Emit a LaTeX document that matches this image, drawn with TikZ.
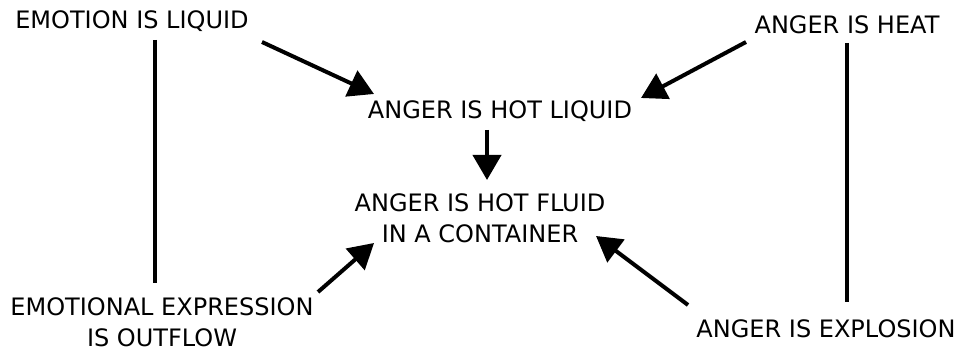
\documentclass[tikz,border=0pt]{standalone}
\usepackage{fontspec}
\setmainfont{DejaVu Sans}
\usetikzlibrary{arrows.meta}
\tikzset{
  lbl/.style={font=\fontsize{24}{31}\selectfont, align=center, inner sep=0pt},
  link/.style={line width=4pt},
  arr/.style={line width=4pt, -{Triangle[length=25pt,width=28pt]}},
}
\begin{document}
\begin{tikzpicture}[x=1pt,y=-1pt]
\useasboundingbox (0,0) rectangle (958,352);
% metaphor labels
\node[lbl] (liquid)  at (132,21)  {EMOTION IS LIQUID};
\node[lbl] (heat)    at (847,25)  {ANGER IS HEAT};
\node[lbl] (hotliq)  at (500,111) {ANGER IS HOT LIQUID};
\node[lbl] (fluid)   at (480,218) {ANGER IS HOT FLUID\\IN A CONTAINER};
\node[lbl] (outflow) at (162,322) {EMOTIONAL EXPRESSION\\IS OUTFLOW};
\node[lbl] (explode) at (826,329) {ANGER IS EXPLOSION};
% free ends of the connectors
\coordinate (liqA) at (155,40);
\coordinate (outA) at (155,283);
\coordinate (heatA) at (847,43);
\coordinate (expA) at (847,302);
\coordinate (liqB) at (262,42);
\coordinate (hotB) at (374,94);
\coordinate (heatB) at (746,42);
\coordinate (hotC) at (641,98);
\coordinate (hotD) at (487,130);
\coordinate (fluB) at (487,180);
\coordinate (outB) at (318,292);
\coordinate (fluC) at (374,243);
\coordinate (expB) at (688,305);
\coordinate (fluD) at (596,236);
% entailment links
\draw[link] (liqA) -- (outA);
\draw[link] (heatA) -- (expA);
\draw[arr] (liqB) -- (hotB);
\draw[arr] (heatB) -- (hotC);
\draw[arr] (hotD) -- (fluB);
\draw[arr] (outB) -- (fluC);
\draw[arr] (expB) -- (fluD);
\end{tikzpicture}
\end{document}
